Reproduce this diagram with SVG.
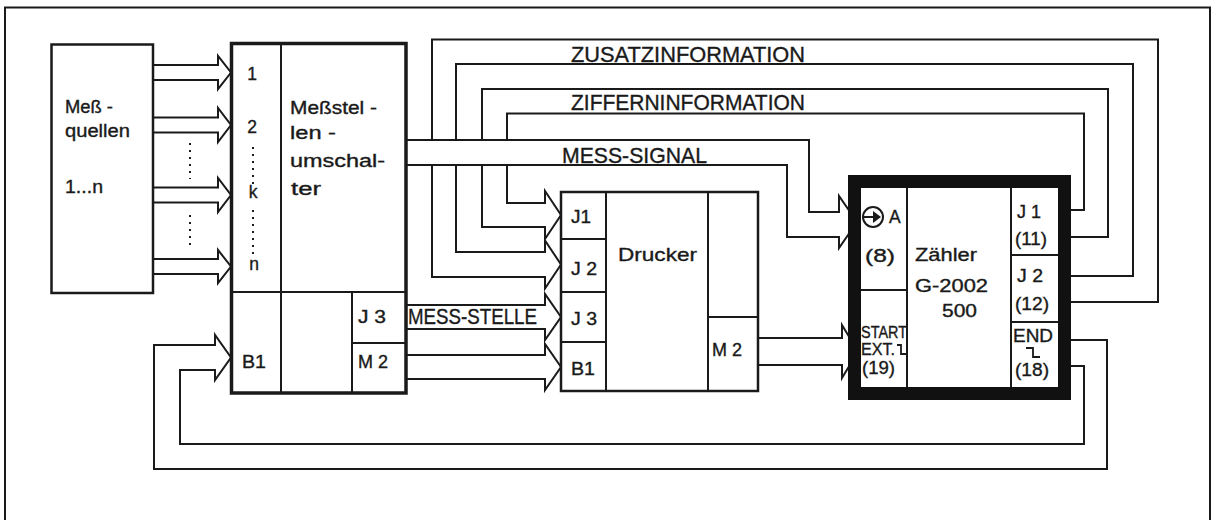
<svg xmlns="http://www.w3.org/2000/svg" width="1215" height="520" viewBox="0 0 1215 520">
<style>
.ln{fill:none;stroke:#1a1a1a;stroke-width:2;stroke-linejoin:miter}
.box{fill:#fff;stroke:#1a1a1a}
.t{font-family:"Liberation Sans",Arial,sans-serif;fill:#1a1a1a;stroke:#1a1a1a;stroke-width:0.35}
.s16{font-size:17.5px}
.s17{font-size:18.5px}
.s15{font-size:16px}
.s21{font-size:22px}
.dot{fill:none;stroke:#1a1a1a;stroke-width:2;stroke-dasharray:2 5}
</style>
<rect width="1215" height="520" fill="#fff"/>
<path class="ln" d="M5,530 V7.5 H1210 V530" stroke-width="1.5"/>

<g id="connectors">
  <path class="ln" d="M153,65 H218 V56 L231,72.5 L218,89 V80 H153"/>
  <path class="ln" d="M153,117.5 H218 V108 L231,125 L218,142 V132.5 H153"/>
  <path class="ln" d="M153,187.5 H218 V178 L231,195 L218,212 V202.5 H153"/>
  <path class="ln" d="M153,259 H218 V250 L231,266.5 L218,283 V274 H153"/>
  <path class="dot" d="M190,143 V179 M190,215 V249"/>
  <path class="ln" d="M1071,340 H1107 V469 H154 V345 H215 V335 L231,357.5 L215,380 V370 H180 V444 H1084 V366 H1071"/>
  <path class="ln" d="M406,140 H809 V212 H839 V196 L857,222 L839,248 V237 H787 V165 H406"/>
  <path class="ln" d="M1071,210 H1084 V113.5 H507 V140 M507,165 V203 H545 V191 L561,215 L545,239 V227 H482 V165 M482,140 V89 H1108 V237 H1071"/>
  <path class="ln" d="M1071,276 H1133 V64 H456 V140 M456,165 V252 H545 V240.5 L561,264.5 L545,288.5 V277 H432 V165 M432,140 V39.5 H1158 V302 H1071"/>
  <path class="ln" d="M406,305 H545 V294 L561,317 L545,340 V329 H406"/>
  <path class="ln" d="M406,355 H545 V344 L561,367 L545,390 V379 H406"/>
  <path class="ln" d="M758,338 H842 V325 L858,351.5 L842,378 V365 H758"/>
  <text class="t s21" x="571" y="62" textLength="234" lengthAdjust="spacingAndGlyphs">ZUSATZINFORMATION</text>
  <text class="t s21" x="571" y="110" textLength="234" lengthAdjust="spacingAndGlyphs">ZIFFERNINFORMATION</text>
  <text class="t s21" x="562" y="163" textLength="145" lengthAdjust="spacingAndGlyphs">MESS-SIGNAL</text>
  <text class="t s21" x="408" y="324" textLength="129" lengthAdjust="spacingAndGlyphs">MESS-STELLE</text>
</g>

<g id="messquellen">
  <rect class="box" x="51.5" y="44.5" width="101.5" height="248.5" stroke-width="2.5"/>
  <text class="t s16" x="65" y="113" textLength="48" lengthAdjust="spacingAndGlyphs">Meß -</text>
  <text class="t s16" x="65" y="137" textLength="65" lengthAdjust="spacingAndGlyphs">quellen</text>
  <text class="t s16" x="65" y="193" textLength="38" lengthAdjust="spacingAndGlyphs">1...n</text>
</g>

<g id="messstellenumschalter">
  <rect class="box" x="231.5" y="43.5" width="174.5" height="349.5" stroke-width="3.5"/>
  <path class="ln" d="M281,43.5 V393 M231.5,292 H406 M352,292 V393 M352,343 H406"/>
  <text class="t s16" x="252" y="80" text-anchor="middle">1</text>
  <text class="t s16" x="252" y="133" text-anchor="middle">2</text>
  <text class="t s16" x="253" y="198" text-anchor="middle">k</text>
  <text class="t s16" x="254" y="270" text-anchor="middle">n</text>
  <path class="dot" d="M253,147 V185 M253,210 V256" stroke-dasharray="1.5 7.5"/>
  <text class="t s16" x="290" y="114" textLength="87" lengthAdjust="spacingAndGlyphs">Meßstel -</text>
  <text class="t s16" x="290" y="139" textLength="46" lengthAdjust="spacingAndGlyphs">len -</text>
  <text class="t s16" x="290" y="167" textLength="95" lengthAdjust="spacingAndGlyphs">umschal-</text>
  <text class="t s16" x="291" y="195" textLength="30" lengthAdjust="spacingAndGlyphs">ter</text>
  <text class="t s16" x="242" y="368" textLength="24" lengthAdjust="spacingAndGlyphs">B1</text>
  <text class="t s16" x="358" y="323" textLength="28" lengthAdjust="spacingAndGlyphs">J 3</text>
  <text class="t s16" x="358" y="368" textLength="30" lengthAdjust="spacingAndGlyphs">M 2</text>
</g>

<g id="drucker">
  <rect class="box" x="561" y="192" width="197" height="199" stroke-width="2.5"/>
  <path class="ln" d="M606,192 V391 M708,192 V391 M561,239 H606 M561,292 H606 M561,342 H606 M708,317 H758"/>
  <text class="t s16" x="571" y="223" textLength="20" lengthAdjust="spacingAndGlyphs">J1</text>
  <text class="t s16" x="571" y="275" textLength="26" lengthAdjust="spacingAndGlyphs">J 2</text>
  <text class="t s16" x="571" y="325" textLength="26" lengthAdjust="spacingAndGlyphs">J 3</text>
  <text class="t s16" x="571" y="375" textLength="24" lengthAdjust="spacingAndGlyphs">B1</text>
  <text class="t s17" x="618" y="261" textLength="79" lengthAdjust="spacingAndGlyphs">Drucker</text>
  <text class="t s16" x="712" y="356" textLength="30" lengthAdjust="spacingAndGlyphs">M 2</text>
</g>

<g id="zaehler">
  <rect x="854.5" y="181.5" width="210" height="212" fill="#fff" stroke="#111" stroke-width="13"/>
  <path class="ln" d="M907,188 V387 M1011,188 V387 M861,290 H907 M1011,255 H1058 M1011,322 H1058"/>
  <circle cx="873" cy="217" r="10" fill="none" stroke="#1a1a1a" stroke-width="2"/>
  <path d="M862,217 H874" stroke="#1a1a1a" stroke-width="2"/>
  <path d="M873,211 L881,217 L873,223 Z" fill="#1a1a1a"/>
  <text class="t s16" x="889" y="223">A</text>
  <text class="t s16" x="865" y="262" textLength="30" lengthAdjust="spacingAndGlyphs">(8)</text>
  <text class="t s16" x="915" y="261" textLength="62" lengthAdjust="spacingAndGlyphs">Zähler</text>
  <text class="t s16" x="915" y="292" textLength="73" lengthAdjust="spacingAndGlyphs">G-2002</text>
  <text class="t s16" x="942" y="317" textLength="35" lengthAdjust="spacingAndGlyphs">500</text>
  <text class="t s15" x="861" y="338" textLength="46" lengthAdjust="spacingAndGlyphs">START</text>
  <text class="t s15" x="861" y="355" textLength="34" lengthAdjust="spacingAndGlyphs">EXT.</text>
  <path d="M897,345 H901 V354 H906" fill="none" stroke="#1a1a1a" stroke-width="1.8"/>
  <text class="t s16" x="862" y="374" textLength="33" lengthAdjust="spacingAndGlyphs">(19)</text>
  <text class="t s16" x="1017" y="218" textLength="24" lengthAdjust="spacingAndGlyphs">J 1</text>
  <text class="t s16" x="1015" y="245" textLength="32" lengthAdjust="spacingAndGlyphs">(11)</text>
  <text class="t s16" x="1017" y="282" textLength="26" lengthAdjust="spacingAndGlyphs">J 2</text>
  <text class="t s16" x="1015" y="310" textLength="34" lengthAdjust="spacingAndGlyphs">(12)</text>
  <text class="t s16" x="1013" y="342" textLength="40" lengthAdjust="spacingAndGlyphs">END</text>
  <path d="M1026,348 H1033 V357 H1040" fill="none" stroke="#1a1a1a" stroke-width="1.8"/>
  <text class="t s16" x="1015" y="376" textLength="34" lengthAdjust="spacingAndGlyphs">(18)</text>
</g>
</svg>
